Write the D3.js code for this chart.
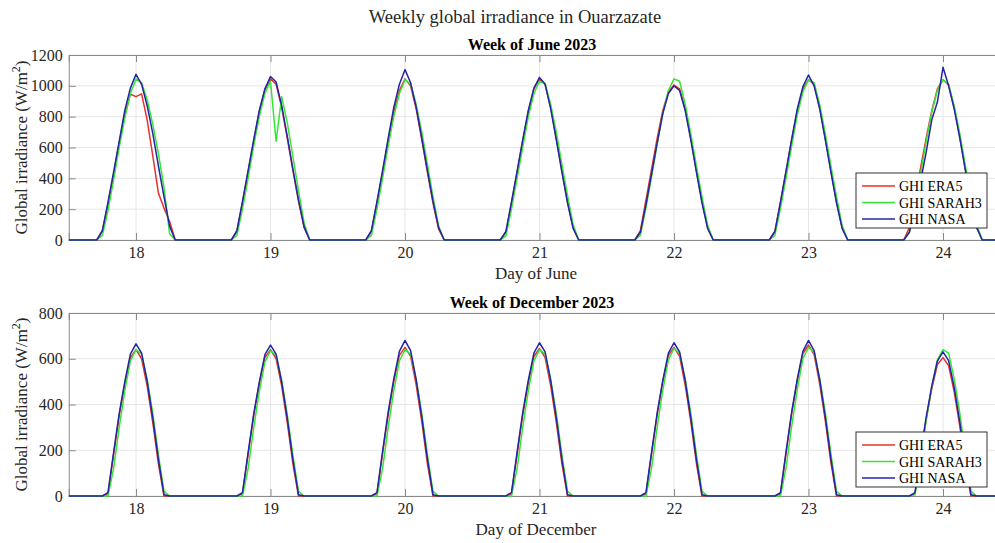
<!DOCTYPE html>
<html>
<head>
<meta charset="utf-8">
<script src="https://cdn.jsdelivr.net/npm/d3@7"></script>
<style>
  html, body { margin: 0; padding: 0; background: #fff; }
  svg { display: block; font-family: "Liberation Serif", "Times New Roman", serif; }
</style>
</head>
<body>
<svg id="chart" width="995" height="543"></svg>
<script>
// Hourly irradiance around solar noon, hours -7 .. +7 (W/m²); zero at night.
const hourOffsets = [-7, -6, -5, -4, -3, -2, -1, 0, 1, 2, 3, 4, 5, 6, 7];
const days = [18, 19, 20, 21, 22, 23, 24];
const dayTicks = [18, 19, 20, 21, 22, 23, 24];
const juneTicksY = [0, 200, 400, 600, 800, 1000, 1200];
const decTicksY = [0, 200, 400, 600, 800];
const seriesNames = ["GHI ERA5", "GHI SARAH3", "GHI NASA"];
const seriesColors = ["#e8312c", "#35e635", "#2424a8"];

const juneEra5 = [
  [0, 60, 230, 420, 630, 810, 945, 930, 948, 776, 546, 304, 207, 120, 0],
  [0, 55, 240, 440, 640, 830, 975, 1045, 1010, 860, 660, 450, 250, 80, 0],
  [0, 55, 240, 440, 640, 830, 970, 1045, 1000, 850, 650, 440, 240, 70, 0],
  [0, 50, 240, 440, 640, 830, 980, 1045, 1010, 860, 660, 450, 250, 80, 0],
  [0, 60, 260, 460, 660, 840, 960, 1005, 980, 850, 660, 450, 250, 80, 0],
  [0, 55, 245, 445, 650, 840, 980, 1040, 1010, 860, 660, 450, 250, 80, 0],
  [0, 80, 270, 470, 660, 840, 980, 1040, 1005, 860, 670, 460, 260, 85, 0]
];
const juneSarah3 = [
  [0, 30, 190, 390, 600, 790, 950, 1045, 1020, 910, 750, 560, 340, 40, 0],
  [0, 30, 200, 400, 610, 800, 950, 1030, 640, 930, 760, 540, 320, 110, 0],
  [0, 30, 200, 400, 610, 800, 950, 1040, 1010, 880, 700, 490, 280, 90, 0],
  [0, 25, 200, 400, 600, 800, 950, 1030, 1015, 880, 700, 490, 290, 100, 0],
  [0, 30, 210, 410, 620, 820, 970, 1045, 1030, 880, 690, 480, 280, 95, 0],
  [0, 30, 205, 405, 610, 810, 960, 1040, 1020, 880, 690, 480, 280, 95, 0],
  [0, 50, 230, 430, 640, 830, 970, 1040, 1010, 870, 690, 480, 280, 100, 0]
];
const juneNasa = [
  [0, 60, 245, 440, 640, 840, 985, 1075, 1010, 870, 690, 480, 280, 90, 0],
  [0, 60, 250, 450, 650, 840, 980, 1060, 1025, 870, 670, 460, 260, 85, 0],
  [0, 60, 250, 450, 660, 860, 1010, 1105, 1020, 860, 660, 450, 250, 80, 0],
  [0, 55, 245, 445, 650, 840, 985, 1055, 1010, 850, 650, 440, 240, 75, 0],
  [0, 50, 230, 430, 630, 820, 950, 1000, 970, 840, 650, 440, 240, 75, 0],
  [0, 55, 245, 450, 655, 850, 995, 1070, 1000, 850, 650, 440, 240, 75, 0],
  [0, 50, 200, 380, 570, 780, 895, 1120, 1000, 850, 660, 450, 250, 80, 0]
];

const decEra5 = [
  [0, 0, 10, 180, 350, 490, 605, 640, 600, 480, 320, 140, 0, 0, 0],
  [0, 0, 10, 180, 350, 490, 605, 640, 600, 480, 320, 140, 0, 0, 0],
  [0, 0, 10, 185, 355, 500, 615, 650, 610, 485, 325, 140, 0, 0, 0],
  [0, 0, 10, 180, 352, 495, 610, 645, 605, 482, 322, 140, 0, 0, 0],
  [0, 0, 10, 185, 355, 500, 615, 650, 610, 485, 325, 142, 0, 0, 0],
  [0, 0, 10, 188, 360, 505, 622, 660, 618, 490, 330, 145, 0, 0, 0],
  [0, 0, 10, 175, 335, 470, 575, 605, 570, 455, 305, 130, 0, 0, 0]
];
const decSarah3 = [
  [0, 0, 0, 120, 300, 460, 590, 640, 620, 510, 360, 180, 20, 0, 0],
  [0, 0, 0, 118, 298, 456, 585, 635, 615, 505, 355, 178, 20, 0, 0],
  [0, 0, 0, 120, 300, 460, 590, 640, 620, 510, 360, 180, 20, 0, 0],
  [0, 0, 0, 120, 300, 460, 590, 640, 620, 510, 360, 180, 20, 0, 0],
  [0, 0, 0, 122, 302, 463, 595, 645, 625, 512, 362, 182, 20, 0, 0],
  [0, 0, 0, 124, 305, 466, 600, 650, 628, 515, 365, 184, 20, 0, 0],
  [0, 0, 5, 160, 330, 480, 595, 640, 625, 512, 362, 180, 20, 0, 0]
];
const decNasa = [
  [0, 0, 15, 190, 360, 500, 620, 665, 625, 500, 340, 160, 5, 0, 0],
  [0, 0, 15, 190, 358, 498, 618, 660, 620, 498, 338, 158, 5, 0, 0],
  [0, 0, 15, 195, 368, 512, 632, 680, 636, 508, 345, 162, 5, 0, 0],
  [0, 0, 15, 192, 364, 505, 625, 670, 630, 504, 342, 160, 5, 0, 0],
  [0, 0, 15, 192, 364, 505, 625, 670, 630, 504, 342, 160, 5, 0, 0],
  [0, 0, 15, 195, 368, 512, 632, 680, 636, 508, 345, 162, 5, 0, 0],
  [0, 0, 15, 185, 345, 480, 590, 630, 592, 475, 322, 150, 5, 0, 0]
];

// Expand the day profiles into an hourly series over the displayed window.
function hourly(profiles) {
  const pts = [];
  pts.push({ t: 17.5, v: 0 });
  days.forEach((d, i) => {
    hourOffsets.forEach((h, j) => {
      pts.push({ t: d + h / 24, v: profiles[i][j] });
    });
  });
  pts.push({ t: 24.5, v: 0 });
  return pts;
}

const svg = d3.select("#chart");
const ink = "#262626";
const boxColor = "#8a8a8a";
const gridColor = "#e6e6e6";

svg.append("text")
  .attr("x", 515).attr("y", 23)
  .attr("text-anchor", "middle")
  .attr("font-size", 18.5).attr("fill", ink)
  .text("Weekly global irradiance in Ouarzazate");

const panels = [
  { title: "Week of June 2023", xlabel: "Day of June", top: 55, bottom: 240,
    ymax: 1200, yticks: juneTicksY, series: [juneEra5, juneSarah3, juneNasa],
    legendTop: 173 },
  { title: "Week of December 2023", xlabel: "Day of December", top: 313, bottom: 496,
    ymax: 800, yticks: decTicksY, series: [decEra5, decSarah3, decNasa],
    legendTop: 432 }
];

const left = 68.75, right = 996.8;
const x = d3.scaleLinear().domain([17.5, 24.4]).range([left, right]);

panels.forEach(p => {
  const y = d3.scaleLinear().domain([0, p.ymax]).range([p.bottom, p.top]);
  const g = svg.append("g");
  const clipId = "clip-" + p.top;
  svg.append("clipPath").attr("id", clipId)
    .append("rect").attr("x", left).attr("y", p.top - 2)
    .attr("width", right - left).attr("height", p.bottom - p.top + 4);

  // grid
  g.selectAll(".gx").data(dayTicks).join("line")
    .attr("x1", d => x(d)).attr("x2", d => x(d))
    .attr("y1", p.top).attr("y2", p.bottom)
    .attr("stroke", gridColor).attr("stroke-width", 1);
  g.selectAll(".gy").data(p.yticks).join("line")
    .attr("x1", left).attr("x2", right)
    .attr("y1", d => y(d)).attr("y2", d => y(d))
    .attr("stroke", gridColor).attr("stroke-width", 1);

  // axes with inward ticks
  const xAxisB = d3.axisBottom(x).tickValues(dayTicks).tickSize(-7).tickPadding(7).tickFormat(d3.format("d"));
  const xAxisT = d3.axisTop(x).tickValues(dayTicks).tickSize(-7).tickFormat("");
  const yAxisL = d3.axisLeft(y).tickValues(p.yticks).tickSize(-7).tickPadding(6).tickFormat(d3.format("d"));
  [
    g.append("g").attr("transform", `translate(0,${p.bottom})`).call(xAxisB),
    g.append("g").attr("transform", `translate(0,${p.top})`).call(xAxisT),
    g.append("g").attr("transform", `translate(${left},0)`).call(yAxisL)
  ].forEach(a => {
    a.select(".domain").attr("stroke", boxColor);
    a.selectAll(".tick line").attr("stroke", boxColor);
    a.selectAll(".tick text").attr("fill", ink).attr("font-size", 16)
      .attr("font-family", "Liberation Serif, serif");
  });

  // lines
  const line = d3.line().x(d => x(d.t)).y(d => y(d.v));
  const lg = g.append("g").attr("clip-path", `url(#${clipId})`);
  p.series.forEach((s, i) => {
    lg.append("path").datum(hourly(s))
      .attr("d", line).attr("fill", "none")
      .attr("stroke", seriesColors[i]).attr("stroke-width", 1.5)
      .attr("stroke-linejoin", "round");
  });

  // titles and labels
  g.append("text").attr("x", 532).attr("y", p.top - 5)
    .attr("text-anchor", "middle").attr("font-size", 16)
    .attr("font-weight", "bold").attr("fill", "#000").text(p.title);
  g.append("text").attr("x", 536).attr("y", p.bottom + 39)
    .attr("text-anchor", "middle").attr("font-size", 17)
    .attr("fill", ink).text(p.xlabel);
  const yl = g.append("text")
    .attr("transform", `translate(27,${(p.top + p.bottom) / 2}) rotate(-90)`)
    .attr("text-anchor", "middle").attr("font-size", 17).attr("fill", ink);
  yl.append("tspan").text("Global irradiance (W/m");
  yl.append("tspan").attr("dy", -7).attr("font-size", 12).text("2");
  yl.append("tspan").attr("dy", 7).text(")");

  // legend
  const lgX = 856, lgW = 131, lgH = 55;
  const leg = g.append("g").attr("transform", `translate(${lgX},${p.legendTop})`);
  leg.append("rect").attr("width", lgW).attr("height", lgH)
    .attr("fill", "#fff").attr("stroke", "#333").attr("stroke-width", 1);
  seriesNames.forEach((name, i) => {
    const cy = 13 + i * 16.5;
    leg.append("line").attr("x1", 6).attr("x2", 39).attr("y1", cy).attr("y2", cy)
      .attr("stroke", seriesColors[i]).attr("stroke-width", 1.5);
    leg.append("text").attr("x", 43).attr("y", cy + 5)
      .attr("font-size", 14).attr("fill", "#000").text(name);
  });
});
</script>
</body>
</html>
